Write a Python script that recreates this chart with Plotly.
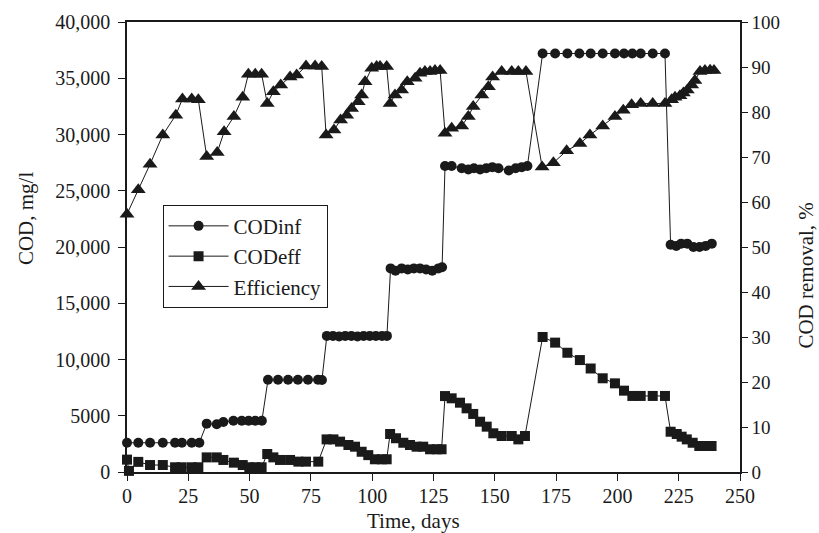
import plotly.graph_objects as go

# Influent COD, mg/l
inf_days = [0, 4.6, 9.4, 14.6, 19.6, 22.4, 26.4, 29.5,
            32.5, 36.6, 39.3, 43.4, 46.8, 49.6, 52.3, 55.0,
            57.5, 61.6, 65.7, 69.7, 73.8, 77.9, 79.5,
            81.5, 84.0, 86.5, 89.0, 91.5, 94.0, 96.5, 99.0, 101.5, 104.0, 106.0,
            107.5, 109.5, 112.0, 114.5, 117.0, 119.5, 122.0, 124.5, 127.0, 128.5,
            129.7, 132.4, 136.5, 139.2, 141.5, 144.0, 146.5, 149.0, 151.5, 155.7, 158.5, 161.0, 163.3,
            169.5, 174.6, 179.6, 184.5, 189.1, 194.0, 199.0, 202.7, 206.1, 209.5, 214.4, 219.4,
            221.7, 224.0, 226.0, 228.5, 231.0, 233.5, 236.0, 238.5]
cod_inf = [2600, 2600, 2600, 2600, 2600, 2600, 2600, 2600,
           4300, 4250, 4450, 4550, 4550, 4550, 4550, 4550,
           8200, 8200, 8200, 8200, 8200, 8200, 8180,
           12100, 12100, 12050, 12100, 12100, 12050, 12100, 12100, 12100, 12100, 12100,
           18100, 17900, 18100, 18000, 18100, 18100, 18000, 17900, 18100, 18200,
           27200, 27200, 27000, 26900, 27000, 26900, 27000, 27100, 27000, 26800, 27000, 27100, 27200,
           37200, 37200, 37200, 37200, 37200, 37200, 37200, 37200, 37200, 37200, 37200, 37200,
           20200, 20100, 20300, 20300, 20000, 20000, 20100, 20300]

# Effluent COD, mg/l
eff_days = [0, 0.8, 4.6, 9.4, 14.6, 19.6, 22.3, 26.4, 29.1,
            32.5, 36.6, 39.3, 43.6, 47.2, 49.9, 52.3, 54.9,
            57.2, 59.7, 62.4, 66.5, 69.9, 73.0, 78.0,
            81.4, 84.2, 86.9, 90.3, 93.0, 95.7, 98.4, 101.1, 103.9, 105.9,
            107.3, 109.7, 112.7, 115.4, 118.1, 120.8, 123.6, 126.3, 128.3,
            129.7, 132.4, 135.8, 138.5, 141.2, 144.0, 146.7, 149.4, 152.8, 156.9, 159.6, 162.3,
            169.5, 174.6, 179.6, 184.7, 189.1, 194.0, 199.0, 202.7, 206.1, 209.5, 214.4, 219.4,
            221.7, 224.2, 226.2, 228.3, 230.7, 233.4, 235.7, 238.4]
cod_eff = [1100, 100, 900, 620, 620, 420, 420, 420, 420,
           1300, 1300, 1070, 830, 620, 420, 420, 420,
           1600, 1300, 1070, 1070, 920, 920, 920,
           2900, 2900, 2700, 2400, 2250, 1800, 1500, 1130, 1130, 1130,
           3380, 3000, 2600, 2400, 2250, 2250, 2020, 2020, 2020,
           6750, 6550, 6160, 5660, 5160, 4470, 4030, 3440, 3200, 3200, 2900, 3200,
           12000, 11500, 10600, 9950, 9200, 8330, 7880, 7230, 6760, 6760, 6760, 6760,
           3580, 3380, 3140, 2900, 2600, 2310, 2310, 2310]

# COD removal efficiency, %
eff_pct_days = [0, 4.6, 9.4, 14.6, 19.9, 22.6, 26.4, 29.1,
                32.5, 36.8, 39.6, 43.6, 47.2, 49.5, 52.3, 54.9,
                57.2, 59.7, 62.7, 66.5, 69.2, 73.0, 76.7, 79.4,
                81.2, 84.4, 87.1, 89.6, 91.6, 94.3, 95.7, 97.1, 99.8, 101.8, 103.2, 105.9,
                107.3, 109.3, 112.0, 114.3, 117.5, 119.5, 121.5, 123.6, 125.6, 127.7,
                129.7, 132.4, 136.5, 139.2, 141.2, 144.7, 147.4, 149.1, 152.8, 156.9, 159.6, 162.7,
                169.3, 173.9, 179.3, 184.7, 188.8, 194.0, 199.0, 202.4, 205.8, 209.5, 214.4, 219.4,
                222.1, 223.5, 225.5, 226.9, 228.5, 230.3, 231.6, 233.7, 235.7, 237.8, 239.4]
removal = [57.3, 62.7, 68.4, 74.9, 79.3, 82.9, 82.9, 82.7,
           70.1, 71.0, 75.6, 79.0, 83.3, 88.4, 88.4, 88.4,
           81.9, 84.5, 86.0, 87.8, 88.2, 90.2, 90.2, 90.1,
           74.9, 76.0, 78.2, 79.3, 80.8, 82.3, 83.8, 86.7, 89.7, 90.1, 90.1, 90.1,
           81.9, 83.8, 84.9, 86.7, 87.5, 88.6, 89.0, 89.0, 89.2, 89.2,
           75.3, 76.4, 76.9, 79.0, 81.2, 83.8, 85.6, 87.8, 89.0, 89.0, 89.0, 89.0,
           67.8, 68.7, 71.4, 73.0, 74.9, 76.9, 79.0, 80.4, 81.6, 81.9, 81.9, 81.9,
           82.7, 83.3, 83.6, 84.2, 84.9, 86.0, 87.0, 89.0, 89.2, 89.3, 89.2]

x_ticks = [0, 25, 50, 75, 100, 125, 150, 175, 200, 225, 250]
left_ticks = [0, 5000, 10000, 15000, 20000, 25000, 30000, 35000, 40000]
left_labels = ["0", "5000", "10,000", "15,000", "20,000", "25,000", "30,000", "35,000", "40,000"]
right_ticks = [0, 10, 20, 30, 40, 50, 60, 70, 80, 90, 100]

FONT = "Liberation Serif"
INK = "#1a1a1a"

fig = go.Figure()
fig.add_trace(go.Scatter(x=inf_days, y=cod_inf, name="CODinf", mode="lines+markers",
                         line=dict(color=INK, width=1),
                         marker=dict(symbol="circle", size=10, color=INK),
                         cliponaxis=False))
fig.add_trace(go.Scatter(x=eff_days, y=cod_eff, name="CODeff", mode="lines+markers",
                         line=dict(color=INK, width=1),
                         marker=dict(symbol="square", size=10, color=INK),
                         cliponaxis=False))
fig.add_trace(go.Scatter(x=eff_pct_days, y=removal, name="Efficiency", mode="lines+markers",
                         line=dict(color=INK, width=1),
                         marker=dict(symbol="triangle-up", size=13, color=INK),
                         yaxis="y2", cliponaxis=False))

tick_font = dict(family=FONT, size=20, color=INK)
title_font = dict(family=FONT, size=21, color=INK)

fig.update_layout(
    width=819, height=533,
    margin=dict(l=127, r=79, t=22, b=61),
    paper_bgcolor="white", plot_bgcolor="white",
    font=dict(family=FONT, size=20, color=INK),
    showlegend=True,
    legend=dict(x=0.058, y=0.594, xanchor="left", yanchor="top",
                bgcolor="white", bordercolor=INK, borderwidth=1,
                font=dict(family=FONT, size=21, color=INK),
                itemwidth=60, tracegroupgap=0),
    xaxis=dict(range=[0, 250], tickvals=x_ticks, ticks="outside", ticklen=7,
               tickcolor=INK, showline=True, linecolor=INK, linewidth=1.5,
               mirror=True, showgrid=False, zeroline=False, tickfont=tick_font,
               ticklabelstandoff=-2),
    yaxis=dict(range=[0, 40000], tickvals=left_ticks, ticktext=left_labels,
               ticks="outside", ticklen=7, tickcolor=INK, showline=True,
               linecolor=INK, linewidth=1.5, showgrid=False, zeroline=False,
               tickfont=tick_font, ticklabelstandoff=4),
    yaxis2=dict(range=[0, 100], tickvals=right_ticks, overlaying="y", side="right",
                anchor="x", ticks="outside", ticklen=6, tickcolor=INK,
                showline=True, linecolor=INK, linewidth=1.5, showgrid=False,
                zeroline=False, tickfont=dict(family=FONT, size=19, color=INK)),
    # inward half of the crossing tick marks on the right axis
    yaxis3=dict(range=[0, 100], tickvals=right_ticks, overlaying="y", side="right",
                anchor="x", ticks="inside", ticklen=6, tickcolor=INK,
                showticklabels=False, showline=False, showgrid=False,
                zeroline=False),
    annotations=[
        dict(text="Time, days", xref="paper", yref="paper", x=0.4666, y=-0.108,
             showarrow=False, font=title_font, xanchor="center", yanchor="middle",
             borderpad=0),
        dict(text="COD, mg/l", xref="paper", yref="paper", x=-0.165, y=0.564,
             showarrow=False, font=title_font, textangle=-90,
             xanchor="center", yanchor="middle", borderpad=0),
        dict(text="COD removal, %", xref="paper", yref="paper", x=1.107, y=0.4356,
             showarrow=False, font=title_font, textangle=-90,
             xanchor="center", yanchor="middle", borderpad=0),
    ],
)

fig.write_html("out.html")
